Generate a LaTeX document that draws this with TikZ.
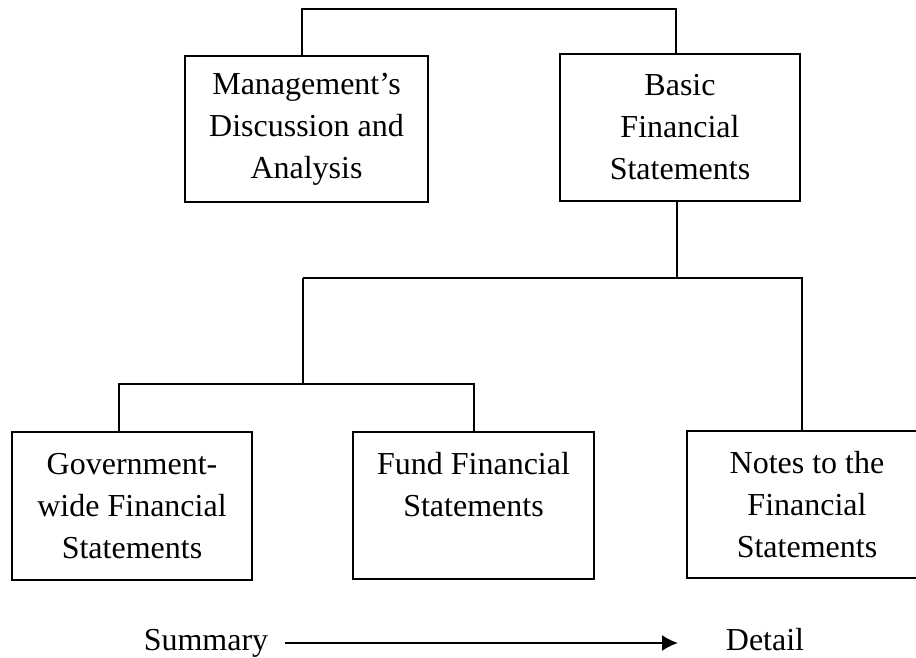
\documentclass[tikz,border=0pt]{standalone}
\usepackage{fontspec}
\setmainfont{Liberation Serif}
\usetikzlibrary{arrows.meta}
\begin{document}
\begin{tikzpicture}[x=1pt,y=-1pt,
  box/.style={draw, line width=2pt, inner sep=0pt, align=center, font=\fontsize{32}{42}\selectfont},
  conn/.style={line width=2pt, line join=miter},
  lbl/.style={font=\fontsize{32}{42}\selectfont, inner sep=0pt, anchor=base}]
\useasboundingbox (0,0) rectangle (916,658);
\clip (0,0) rectangle (916,658);
% boxes
\node[box, minimum width=243pt, minimum height=146pt] (md) at (306.5,129) {Management’s\\Discussion and\\Analysis};
\node[box, minimum width=240pt, minimum height=147pt] (bfs) at (680,127.5) {Basic\\Financial\\Statements};
\node[box, minimum width=240pt, minimum height=148pt] (gov) at (132,506) {Government-\\wide Financial\\Statements};
\node[box, minimum width=241pt, minimum height=147pt] (fund) at (473.5,505.5) {Fund Financial\\Statements\\\mbox{}};
\node[box, minimum width=240pt, minimum height=147pt] (notes) at (807,504.5) {Notes to the\\Financial\\Statements};
% connectors
\coordinate (t1) at (302,9.5);
\coordinate (t2) at (676,9.5);
\draw[conn] (md.north -| t1) -- (t1) -- (t2) -- (bfs.north -| t2);
\coordinate (m1) at (677,278);
\coordinate (m2) at (303,278);
\coordinate (m3) at (801.5,278);
\draw[conn] (bfs.south -| m1) -- (m1);
\draw[conn] (m2) -- (m3) -- (notes.north -| m3);
\coordinate (g1) at (303,384);
\coordinate (g2) at (118.6,384);
\coordinate (g3) at (474,384);
\draw[conn] (m2) -- (g1);
\draw[conn] (gov.north -| g2) -- (g2) -- (g3) -- (fund.north -| g3);
% summary / detail
\node[lbl] (sum) at (206,650) {Summary};
\node[lbl] (det) at (765,650) {Detail};
\coordinate (a1) at (285,643);
\coordinate (a2) at (678,643);
\draw[conn, -{Latex[length=16pt,width=16pt]}] (a1) -- (a2);
\end{tikzpicture}
\end{document}
